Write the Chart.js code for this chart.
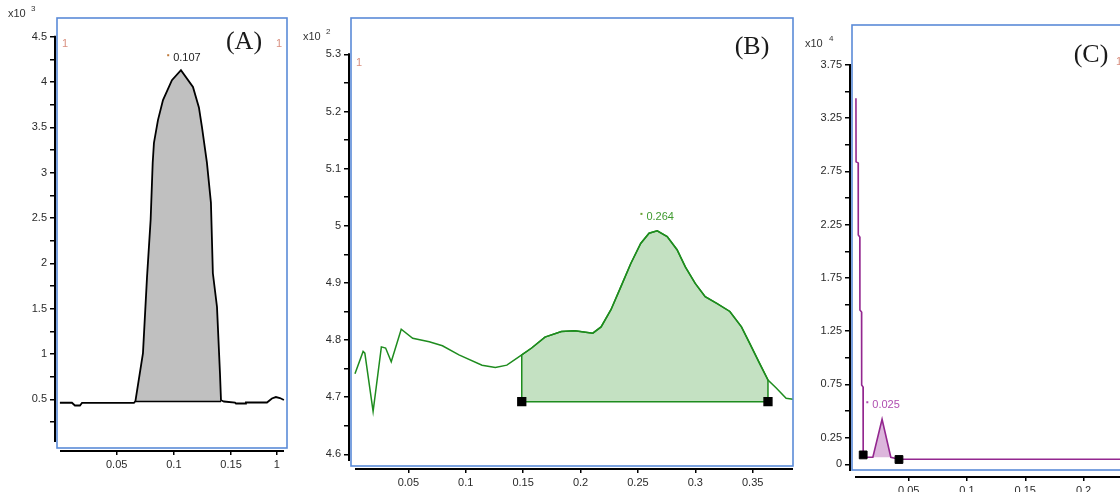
<!DOCTYPE html>
<html>
<head>
<meta charset="utf-8">
<script src="https://cdn.jsdelivr.net/npm/chart.js@4.4.1/dist/chart.umd.min.js"></script>
<style>
  html, body { margin: 0; padding: 0; background: #fff; overflow: hidden; }
  #wrap { position: relative; width: 1120px; height: 492px; overflow: hidden; }
  canvas { position: absolute; top: 0; }
</style>
</head>
<body>
<div id="wrap">
  <canvas id="chartA" width="300" height="492" style="left:0px"></canvas>
  <canvas id="chartB" width="510" height="492" style="left:290px"></canvas>
  <canvas id="chartC" width="340" height="492" style="left:800px"></canvas>
</div>
<script>
// ---- panel A (x10^3) ----
const xA = [0.0004, 0.0109, 0.0135, 0.0179, 0.0197, 0.0651, 0.0664, 0.0730, 0.0765, 0.0797, 0.0815, 0.0826,
  0.0861, 0.0905, 0.0983, 0.1062, 0.1167, 0.1219, 0.1246, 0.1289, 0.1324, 0.1341, 0.1377, 0.1403, 0.1412,
  0.1438, 0.1534, 0.1543, 0.1622, 0.1630, 0.1814, 0.1857, 0.1892, 0.1927, 0.1962];
const yA = [0.462, 0.462, 0.432, 0.432, 0.460, 0.460, 0.480, 1.01, 1.84, 2.48, 3.11, 3.33,
  3.58, 3.80, 4.02, 4.13, 3.945, 3.72, 3.50, 3.11, 2.67, 1.89, 1.52, 0.79, 0.49,
  0.476, 0.465, 0.454, 0.454, 0.465, 0.465, 0.509, 0.525, 0.514, 0.492];
const areaA = [0.0664, 0.1412, 0.475];      // start, end, baseline
const peakA = [0.1062, 4.13];
const peakLabelA = '0.107';
const xTicksA = [0.05, 0.1, 0.15, 0.19];
const xLabelsA = ['0.05', '0.1', '0.15', '1'];
const yTicksA = [0.25, 0.5, 0.75, 1, 1.25, 1.5, 1.75, 2, 2.25, 2.5, 2.75, 3, 3.25, 3.5, 3.75, 4, 4.25, 4.5];
const yLabelsA = ['', '0.5', '', '1', '', '1.5', '', '2', '', '2.5', '', '3', '', '3.5', '', '4', '', '4.5'];

// ---- panel B (x10^2) ----
const xB = [0.0035, 0.0106, 0.0121, 0.0193, 0.0265, 0.0302, 0.0351, 0.0438, 0.0538, 0.0682, 0.0797, 0.0941,
  0.1142, 0.1258, 0.1358, 0.1488, 0.1574, 0.1690, 0.1833, 0.1949, 0.2107, 0.2179, 0.2265, 0.2351, 0.2438,
  0.2524, 0.2597, 0.2668, 0.2755, 0.2841, 0.2913, 0.2999, 0.3086, 0.3187, 0.3301, 0.3402, 0.3474, 0.3560,
  0.3633, 0.3705, 0.3791, 0.3860];
const yB = [4.741, 4.780, 4.777, 4.675, 4.788, 4.786, 4.762, 4.819, 4.803, 4.797, 4.790, 4.774,
  4.756, 4.752, 4.756, 4.774, 4.786, 4.805, 4.815, 4.816, 4.812, 4.823, 4.853, 4.893, 4.934,
  4.969, 4.987, 4.991, 4.981, 4.958, 4.928, 4.899, 4.876, 4.864, 4.850, 4.823, 4.794, 4.759,
  4.730, 4.716, 4.698, 4.696];
const areaB = [0.1488, 0.3633, 4.692];
const peakB = [0.2668, 4.991];
const peakLabelB = '0.264';
const xTicksB = [0.05, 0.1, 0.15, 0.2, 0.25, 0.3, 0.35];
const xLabelsB = ['0.05', '0.1', '0.15', '0.2', '0.25', '0.3', '0.35'];
const yTicksB = [4.6, 4.65, 4.7, 4.75, 4.8, 4.85, 4.9, 4.95, 5.0, 5.05, 5.1, 5.15, 5.2, 5.25, 5.3];
const yLabelsB = ['4.6', '', '4.7', '', '4.8', '', '4.9', '', '5', '', '5.1', '', '5.2', '', '5.3'];

// ---- panel C (x10^4) ----
const xC = [0.0048, 0.0049, 0.0067, 0.0068, 0.0081, 0.0082, 0.0096, 0.0097, 0.0109, 0.0110, 0.0132, 0.0193,
  0.0272, 0.0347, 0.0417, 0.2600];
const yC = [3.437, 2.840, 2.830, 2.153, 2.134, 1.449, 1.430, 0.745, 0.726, 0.103, 0.066, 0.066,
  0.423, 0.066, 0.047, 0.047];
const areaC = [0.0193, 0.0347, 0.066];
const markersC = [[0.011, 0.088], [0.0417, 0.045]];
const peakC = [0.0272, 0.423];
const peakLabelC = '0.025';
const xTicksC = [0.05, 0.1, 0.15, 0.2];
const xLabelsC = ['0.05', '0.1', '0.15', '0.2'];
const yTicksC = [0, 0.25, 0.5, 0.75, 1, 1.25, 1.5, 1.75, 2, 2.25, 2.5, 2.75, 3, 3.25, 3.5, 3.75];
const yLabelsC = ['0', '0.25', '', '0.75', '', '1.25', '', '1.75', '', '2.25', '', '2.75', '', '3.25', '', '3.75'];

const pts = (xs, ys) => xs.map((x, i) => ({ x: x, y: ys[i] }));
const between = (xs, ys, a, b) => pts(xs, ys).filter(p => p.x >= a && p.x <= b);

const tickFont = { family: 'Liberation Sans, Arial, sans-serif', size: 11 };
const serif = '26px "Liberation Serif", "Times New Roman", serif';
const small = '11px "Liberation Sans", Arial, sans-serif';
const sup = '8px "Liberation Sans", Arial, sans-serif';

const decor = {
  id: 'decor',
  afterDraw(chart, args, o) {
    const ctx = chart.ctx, a = chart.chartArea, sx = chart.scales.x, sy = chart.scales.y;
    ctx.save();
    // blue frame
    ctx.strokeStyle = '#5b8bd8';
    ctx.lineWidth = 1.6;
    const fl = a.left + o.frame[0], ft = a.top + o.frame[1];
    ctx.strokeRect(fl, ft, a.right + o.frame[2] - fl, a.bottom + o.frame[3] - ft);
    // black axes
    ctx.strokeStyle = '#000';
    ctx.lineWidth = 2;
    ctx.beginPath();
    ctx.moveTo(a.left, sy.getPixelForValue(o.yTop) - 1);
    ctx.lineTo(a.left, a.bottom - o.yGap);
    ctx.moveTo(a.left + o.xGap, a.bottom + 1);
    ctx.lineTo(a.right - o.xGapR, a.bottom + 1);
    ctx.stroke();
    // texts
    ctx.textBaseline = 'middle';
    for (const t of o.texts) {
      ctx.font = t.font;
      ctx.fillStyle = t.color;
      ctx.textAlign = t.align || 'left';
      ctx.fillText(t.text, t.x - o.offset, t.y);
    }
    // peak label
    const p = o.peak;
    const px = sx.getPixelForValue(p.at[0]) + p.dx, py = sy.getPixelForValue(p.at[1]) - p.dy;
    ctx.font = small;
    ctx.fillStyle = p.color;
    ctx.textAlign = 'center';
    ctx.fillText(p.text, px, py);
    const w = ctx.measureText(p.text).width;
    ctx.fillStyle = p.dot;
    ctx.fillRect(px - w / 2 - 6, py - 4, 2, 2);
    ctx.restore();
  }
};

function makeScales(xr, yr, xTicks, xLabels, yTicks, yLabels, yWidth, xHeight) {
  const common = {
    type: 'linear',
    grid: { display: true, drawOnChartArea: false, drawTicks: true, tickLength: 5, color: '#000', lineWidth: 1.5 },
    border: { display: false }
  };
  return {
    x: Object.assign({}, common, {
      min: xr[0], max: xr[1],
      afterBuildTicks: s => { s.ticks = xTicks.map(v => ({ value: v })); },
      afterFit: s => { s.height = xHeight; },
      ticks: { font: tickFont, color: '#2a2a2a', padding: 3, autoSkip: false, maxRotation: 0,
        callback: (v, i) => xLabels[i] }
    }),
    y: Object.assign({}, common, {
      min: yr[0], max: yr[1],
      afterBuildTicks: s => { s.ticks = yTicks.map(v => ({ value: v })); },
      afterFit: s => { s.width = yWidth; },
      ticks: { font: tickFont, color: '#2a2a2a', padding: 3, autoSkip: false,
        callback: (v, i) => yLabels[i] }
    })
  };
}

const baseOpts = {
  responsive: false,
  animation: false,
  devicePixelRatio: 1,
  elements: { point: { radius: 0 }, line: { tension: 0 } }
};

// dataset 0 is drawn on top, the last one at the bottom

// ---- chart A ----
new Chart(document.getElementById('chartA'), {
  type: 'line',
  data: {
    datasets: [
      { data: pts(xA, yA), borderColor: '#000', borderWidth: 1.8, pointRadius: 0, fill: false },
      { data: [{ x: areaA[0], y: areaA[2] }, { x: areaA[1], y: areaA[2] }], borderColor: '#000', borderWidth: 1.5,
        pointRadius: 0, fill: false },
      { data: between(xA, yA, areaA[0], areaA[1]), fill: { value: areaA[2] }, backgroundColor: '#c0c0c0',
        borderWidth: 0, pointRadius: 0 }
    ]
  },
  options: Object.assign({}, baseOpts, {
    layout: { padding: { left: 0, right: 13, top: 18, bottom: 0 } },
    scales: makeScales([-0.0039, 0.1989], [-0.059, 4.706], xTicksA, xLabelsA, yTicksA, yLabelsA, 55, 42),
    plugins: {
      legend: { display: false }, tooltip: { enabled: false },
      decor: {
        offset: 0, frame: [2, 0, 0, -2], yTop: 4.5, yGap: 8, xGap: 5, xGapR: 3,
        texts: [
          { text: 'x10', x: 8, y: 14, font: small, color: '#333' },
          { text: '3', x: 31, y: 9, font: sup, color: '#333' },
          { text: '(A)', x: 244, y: 42, font: serif, color: '#1a1a1a', align: 'center' },
          { text: '1', x: 62, y: 44, font: small, color: '#d98f7f' },
          { text: '1', x: 276, y: 44, font: small, color: '#d98f7f' }
        ],
        peak: { at: peakA, text: peakLabelA, dx: 6, dy: 12, color: '#222', dot: '#c07a3a' }
      }
    }
  }),
  plugins: [decor]
});

// ---- chart B ----
new Chart(document.getElementById('chartB'), {
  type: 'line',
  data: {
    datasets: [
      { data: [{ x: areaB[0], y: areaB[2] }, { x: areaB[1], y: areaB[2] }], borderColor: '#1e8c1e', borderWidth: 1.5,
        pointRadius: 5.5, pointStyle: 'rect', pointBackgroundColor: '#000', pointBorderColor: '#000', fill: false },
      { data: pts(xB, yB), borderColor: '#1e8c1e', borderWidth: 1.5, pointRadius: 0, fill: false },
      { data: [{ x: areaB[0], y: areaB[2] }].concat(between(xB, yB, areaB[0], areaB[1]), [{ x: areaB[1], y: areaB[2] }]),
        fill: { value: areaB[2] }, backgroundColor: '#c4e1c2', borderColor: '#1e8c1e', borderWidth: 1.5, pointRadius: 0 }
    ]
  },
  options: Object.assign({}, baseOpts, {
    layout: { padding: { left: 0, right: 3, top: 18, bottom: 0 } },
    scales: makeScales([-0.0017, 0.3851], [4.576, 5.3636], xTicksB, xLabelsB, yTicksB, yLabelsB, 59, 24),
    plugins: {
      legend: { display: false }, tooltip: { enabled: false },
      decor: {
        offset: 290, frame: [2, 0, 0, -2], yTop: 5.3, yGap: 7, xGap: 6, xGapR: 0,
        texts: [
          { text: 'x10', x: 303, y: 37, font: small, color: '#333' },
          { text: '2', x: 326, y: 32, font: sup, color: '#333' },
          { text: '(B)', x: 752, y: 47, font: serif, color: '#1a1a1a', align: 'center' },
          { text: '1', x: 356, y: 63, font: small, color: '#d98f7f' }
        ],
        peak: { at: peakB, text: peakLabelB, dx: 3, dy: 14, color: '#3f9a2f', dot: '#6aa030' }
      }
    }
  }),
  plugins: [decor]
});

// ---- chart C (canvas runs past the right edge of the page) ----
new Chart(document.getElementById('chartC'), {
  type: 'line',
  data: {
    datasets: [
      { data: markersC.map(m => ({ x: m[0], y: m[1] })), showLine: false, pointRadius: 5.5, pointStyle: 'rect',
        pointBackgroundColor: '#000', pointBorderColor: '#000', fill: false },
      { data: pts(xC, yC), borderColor: '#93278f', borderWidth: 1.6, pointRadius: 0, fill: false },
      { data: between(xC, yC, areaC[0], areaC[1]), fill: { value: areaC[2] }, backgroundColor: '#dcb6dc',
        borderWidth: 0, pointRadius: 0 }
    ]
  },
  options: Object.assign({}, baseOpts, {
    layout: { padding: { left: 0, right: 0, top: 25, bottom: 0 } },
    scales: makeScales([-0.0003, 0.2428], [-0.11, 4.125], xTicksC, xLabelsC, yTicksC, yLabelsC, 50, 16),
    plugins: {
      legend: { display: false }, tooltip: { enabled: false },
      decor: {
        offset: 800, frame: [2, 0, 20, -6], yTop: 3.75, yGap: 5, xGap: 5, xGapR: 0,
        texts: [
          { text: 'x10', x: 805, y: 44, font: small, color: '#333' },
          { text: '4', x: 829, y: 39, font: sup, color: '#333' },
          { text: '(C)', x: 1091, y: 55, font: serif, color: '#1a1a1a', align: 'center' },
          { text: '1', x: 1116, y: 62, font: small, color: '#d98f7f' }
        ],
        peak: { at: peakC, text: peakLabelC, dx: 4, dy: 14, color: '#b04fb0', dot: '#b04fb0' }
      }
    }
  }),
  plugins: [decor]
});
</script>
</body>
</html>
